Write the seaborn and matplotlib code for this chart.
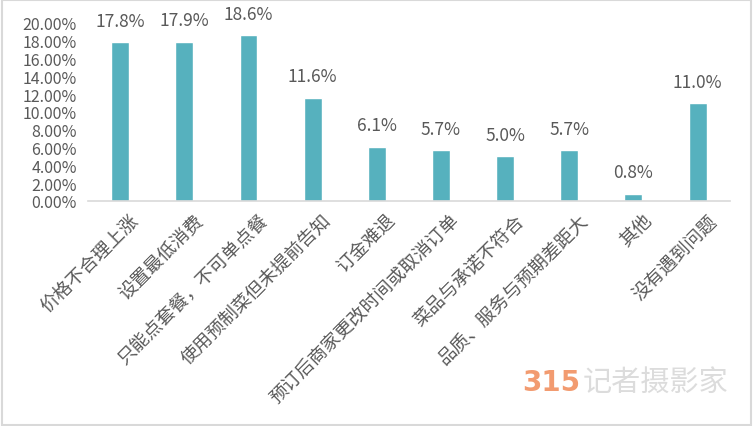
import matplotlib
matplotlib.use("Agg")
import matplotlib.pyplot as plt
import matplotlib.transforms as mtrans
import seaborn as sns
import pandas as pd
from matplotlib.ticker import PercentFormatter

categories = [
    "价格不合理上涨",
    "设置最低消费",
    "只能点套餐，不可单点餐",
    "使用预制菜但未提前告知",
    "订金难退",
    "预订后商家更改时间或取消订单",
    "菜品与承诺不符合",
    "品质、服务与预期差距大",
    "其他",
    "没有遇到问题",
]
values = [17.8, 17.9, 18.6, 11.6, 6.1, 5.7, 5.0, 5.7, 0.8, 11.0]

BAR_COLOR = "#56b1be"
TEXT_COLOR = "#595959"

sns.set_theme(style="white")
plt.rcParams["font.family"] = ["Noto Sans CJK SC", "DejaVu Sans"]

df = pd.DataFrame({"cat": categories, "val": [v / 100 for v in values]})

fig = plt.figure(figsize=(7.53, 4.27), dpi=100)
ax = fig.add_axes([0.117, 0.527, 0.852, 0.417])

sns.barplot(data=df, x="cat", y="val", color=BAR_COLOR, width=0.28,
            saturation=1, ax=ax)

ax.set_ylim(0, 0.20)
ax.set_yticks([i * 0.02 for i in range(11)])
ax.yaxis.set_major_formatter(PercentFormatter(1.0, decimals=2))
ax.tick_params(axis="y", labelsize=11.5, labelcolor=TEXT_COLOR, length=0, pad=8)
ax.tick_params(axis="x", labelsize=13.3, labelcolor=TEXT_COLOR, length=0, pad=6)
ax.set_xlim(-0.5, len(categories) - 0.5)
shift = mtrans.ScaledTranslation(0.1, -0.02, fig.dpi_scale_trans)
for lab in ax.get_xticklabels():
    lab.set_rotation(45)
    lab.set_ha("right")
    lab.set_rotation_mode("anchor")
    lab.set_transform(lab.get_transform() + shift)
ax.set_xlabel("")
ax.set_ylabel("")

for s in ["top", "right", "left"]:
    ax.spines[s].set_visible(False)
ax.spines["bottom"].set_color("#d9d9d9")
ax.spines["bottom"].set_linewidth(1.2)

for i, v in enumerate(values):
    ax.annotate(f"{v:.1f}%", (i, v / 100), xytext=(0, 9), textcoords="offset points",
                ha="center", va="bottom", fontsize=12.5, color=TEXT_COLOR,
                annotation_clip=False)

# outer chart border
fig.patches.append(plt.Rectangle((0.002, 0.003), 0.996, 0.994, transform=fig.transFigure,
                                 fill=False, edgecolor="#d9d9d9", linewidth=1.5))

# watermark
fig.text(0.693, 0.103, "315", color="#f29b70", fontsize=20, fontweight="bold",
         ha="left", va="center", family="DejaVu Sans")
fig.text(0.774, 0.103, "记者摄影家", color="#dcdcdc", fontsize=21,
         ha="left", va="center")

fig.savefig("out.png", dpi=100)
